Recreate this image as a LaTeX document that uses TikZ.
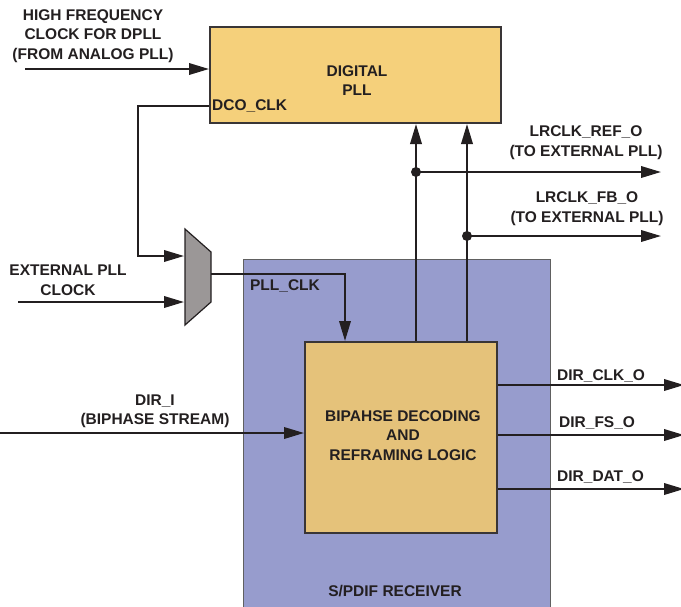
\documentclass[tikz,border=0pt]{standalone}
\usepackage{fontspec}
\setmainfont{Liberation Sans}
\usetikzlibrary{arrows.meta, positioning, calc}

\definecolor{pllfill}{HTML}{F5D07B}
\definecolor{decfill}{HTML}{E5C27A}
\definecolor{rxfill}{HTML}{979CCD}
\definecolor{muxfill}{HTML}{9B9797}
\definecolor{inkdark}{HTML}{231F20}

\begin{document}
\begin{tikzpicture}[
    x=1pt, y=-1pt, >={Triangle[length=20pt, width=11.5pt]},
    lbl/.style={font=\fontsize{15.5}{19.5}\selectfont\bfseries,
                text=inkdark, align=center, inner sep=0pt},
    blk/.style={draw=inkdark!90, line width=2pt, anchor=north west,
                inner sep=0pt},
    sig/.style={line width=2pt, draw=inkdark}
  ]
  \useasboundingbox (0,0) rectangle (681,606);

  % receiver frame and blocks
  \node[blk, draw=gray!75!black, line width=1.2pt, fill=rxfill,
        minimum width=307pt, minimum height=360pt] (rx) at (243,259) {};
  \node[lbl] (rxtxt) at (395,591) {S/PDIF RECEIVER};
  \node[blk, fill=pllfill, minimum width=291pt, minimum height=96pt]
    (dpll) at (209,26) {};
  \node[lbl] (dplltxt) at (357,80.5) {DIGITAL\\PLL};
  \node[blk, fill=decfill, minimum width=192pt, minimum height=191pt]
    (dec) at (304,341) {};
  \node[lbl] (dectxt) at (403,435.5)
    {BIPAHSE DECODING\\AND\\REFRAMING LOGIC};

  % clock mux
  \draw[fill=muxfill, draw=inkdark, line width=1.2pt]
    (185,229) -- (211,252) -- (211,302) -- (185,325) -- cycle;
  \coordinate (muxa) at (184,256);
  \coordinate (muxb) at (184,302);
  \coordinate (muxo) at (211,274);

  % inputs
  \node[lbl] (hftxt) at (93,36)
    {HIGH FREQUENCY\\CLOCK FOR DPLL\\(FROM ANALOG PLL)};
  \coordinate (hfin) at (25,69);
  \draw[sig, ->] (hfin) -- (dpll.west |- hfin);

  \node[lbl, anchor=west] (dco) at (212,106) {DCO\_CLK};
  \coordinate (dcobend) at (138,106);
  \draw[sig, ->] (dpll.west |- dco) -- (dcobend) |- (muxa);

  \node[lbl] (exttxt) at (68,280) {EXTERNAL PLL\\CLOCK};
  \coordinate (extin) at (18,302);
  \draw[sig, ->] (extin) -- (muxb);

  \node[lbl] (pllclk) at (285,286) {PLL\_CLK};
  \draw[sig, ->] (muxo) -| ($(dec.north west)+(41,0)$);

  \node[lbl] (dirtxt) at (155,411.5) {DIR\_I\\(BIPHASE STREAM)};
  \coordinate (dirin) at (0,433);
  \draw[sig, ->] (dirin) -- (dec.west |- dirin);

  % lrclk feedback to pll and outputs
  \coordinate (ref) at (416,172);
  \coordinate (fb) at (467,236);
  \coordinate (refo) at (661,172);
  \coordinate (fbo) at (661,236);
  \draw[sig, ->] (dec.north -| ref) -- (dpll.south -| ref);
  \draw[sig, ->] (dec.north -| fb) -- (dpll.south -| fb);
  \draw[sig, ->] (ref) -- (refo);
  \draw[sig, ->] (fb) -- (fbo);
  \fill[inkdark] (ref) circle (5pt);
  \fill[inkdark] (fb) circle (5pt);
  \node[lbl] (reftxt) at (586,142.5) {LRCLK\_REF\_O\\(TO EXTERNAL PLL)};
  \node[lbl] (fbtxt) at (587,208.5) {LRCLK\_FB\_O\\(TO EXTERNAL PLL)};

  % decoder outputs
  \coordinate (clko) at (684,385);
  \coordinate (fso) at (684,435);
  \coordinate (dato) at (684,489);
  \draw[sig, ->] (dec.east |- clko) -- (clko);
  \draw[sig, ->] (dec.east |- fso) -- (fso);
  \draw[sig, ->] (dec.east |- dato) -- (dato);
  \node[lbl, anchor=base west] (clktxt) at (557,380.5) {DIR\_CLK\_O};
  \node[lbl, anchor=base west] (fstxt) at (559,427.5) {DIR\_FS\_O};
  \node[lbl, anchor=base west] (dattxt) at (557,481.5) {DIR\_DAT\_O};
\end{tikzpicture}
\end{document}
